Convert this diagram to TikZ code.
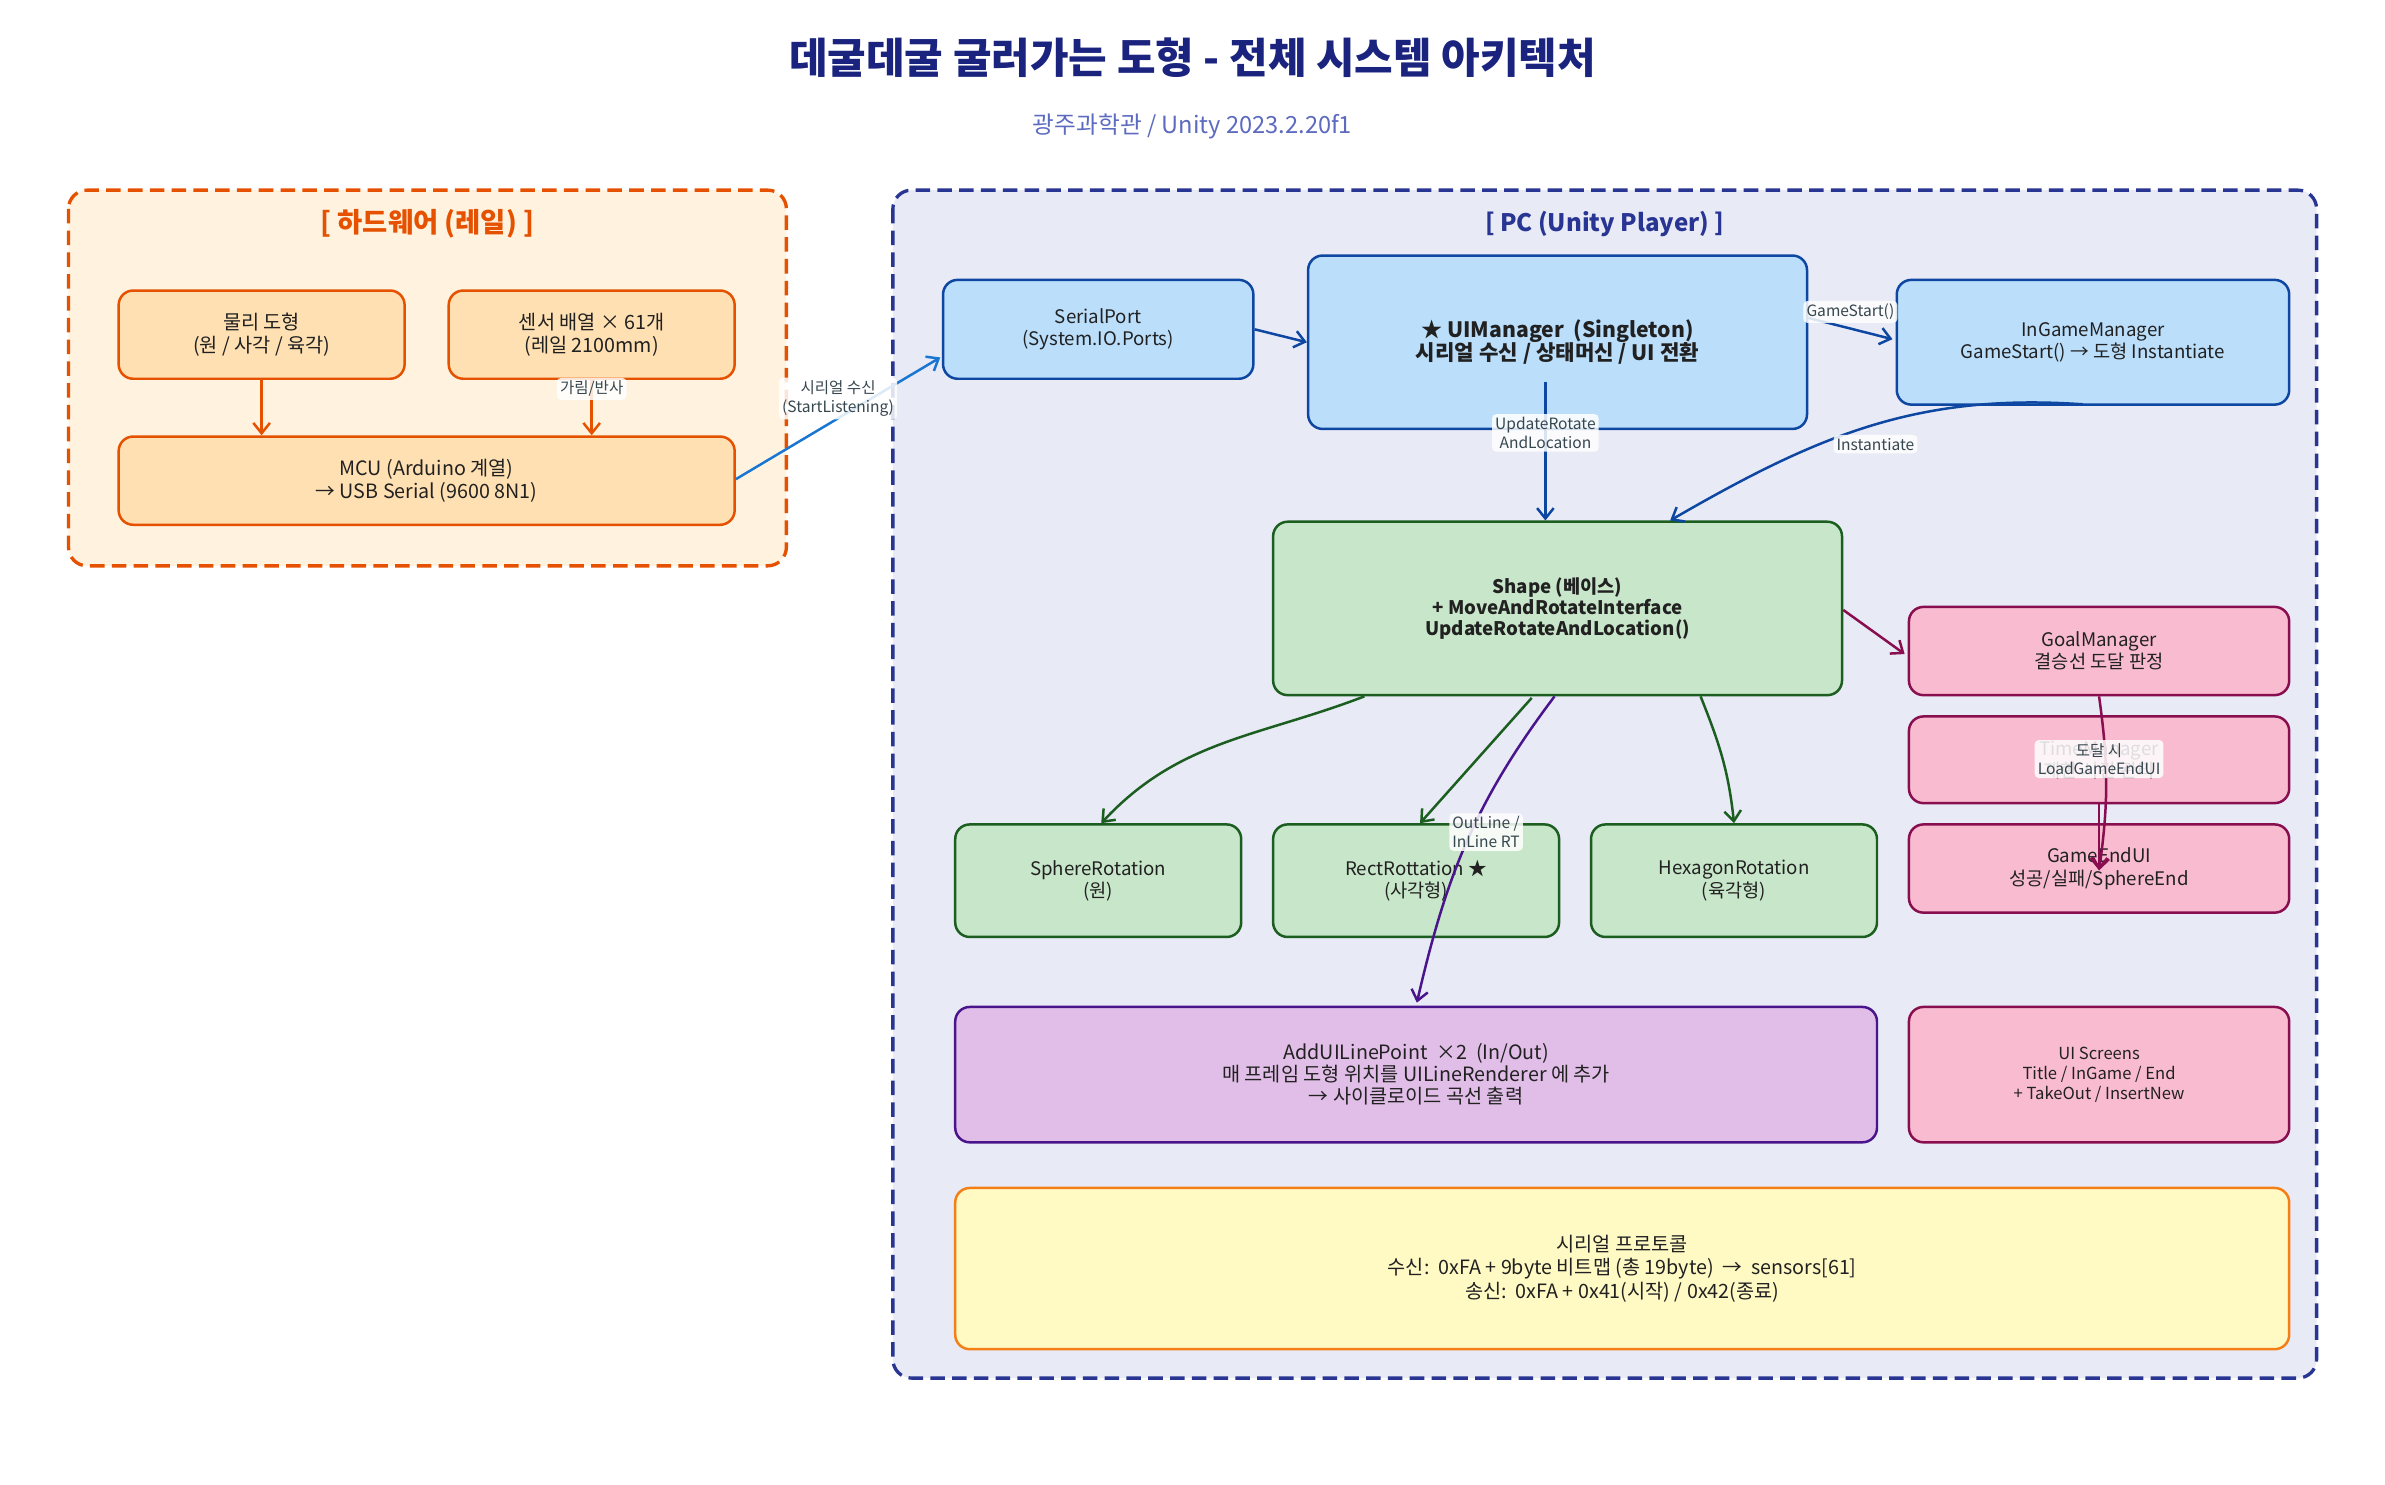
\documentclass[tikz,border=0pt]{standalone}
\usepackage{fontspec}
\setmainfont{Noto Sans CJK KR}
\usetikzlibrary{arrows.meta,calc}

\def \unitLen {0.025757cm}

\definecolor{titleNavy}{HTML}{1A237E}
\definecolor{subBlue}{HTML}{5C6BC0}
\definecolor{hwLine}{HTML}{E65100}
\definecolor{hwBack}{HTML}{FFF3E0}
\definecolor{hwFill}{HTML}{FFE0B2}
\definecolor{serialBlue}{HTML}{1976D2}
\definecolor{pcLine}{HTML}{283593}
\definecolor{pcBack}{HTML}{E8EAF6}
\definecolor{blueFill}{HTML}{BBDEFB}
\definecolor{blueLine}{HTML}{0D47A1}
\definecolor{greenFill}{HTML}{C8E6C9}
\definecolor{greenLine}{HTML}{1B5E20}
\definecolor{pinkFill}{HTML}{F8BBD0}
\definecolor{pinkLine}{HTML}{880E4F}
\definecolor{purpleFill}{HTML}{E1BEE7}
\definecolor{purpleLine}{HTML}{4A148C}
\definecolor{yellowFill}{HTML}{FFF9C4}
\definecolor{yellowLine}{HTML}{F57F17}
\definecolor{textDark}{HTML}{212121}
\definecolor{labelText}{HTML}{37474F}

\tikzset{
  boxsize/.style 2 args={minimum width=#1*\unitLen, minimum height=#2*\unitLen},
  module/.style={draw, rounded corners=7pt, line width=1.2pt, align=center,
    text=textDark, inner sep=2pt, font=\fontsize{9}{10.8}\selectfont},
  hwbox/.style={module, fill=hwFill, draw=hwLine, font=\fontsize{9.5}{11}\selectfont},
  pcbox/.style={module, fill=blueFill, draw=blueLine},
  shapebox/.style={module, fill=greenFill, draw=greenLine},
  pinkbox/.style={module, fill=pinkFill, draw=pinkLine},
  linebox/.style={module, fill=purpleFill, draw=purpleLine, font=\fontsize{9.5}{10.6}\selectfont},
  protobox/.style={module, fill=yellowFill, draw=yellowLine, font=\fontsize{9.5}{11.4}\selectfont},
  frame/.style={line width=1.6pt, rounded corners=9pt, dash pattern=on 7pt off 3.5pt},
  link/.style={-{Straight Barb[length=5pt,width=8pt]}, line width=1.2pt},
  elabel/.style={fill=white, fill opacity=0.85, text opacity=1, rounded corners=2pt,
    inner sep=1.5pt, align=center, text=labelText, font=\fontsize{7.5}{9}\selectfont}
}

\begin{document}
\begin{tikzpicture}[x=\unitLen, y=\unitLen]
  \useasboundingbox[fill=white] (0,0) rectangle (1568,-976);

  % titles
  \node[font=\bfseries\fontsize{20.2}{24}\selectfont, text=titleNavy] (title) at (784,-38)
    {데굴데굴 굴러가는 도형 - 전체 시스템 아키텍처};
  \node[font=\fontsize{11.4}{13}\selectfont, text=subBlue] (subtitle) at (784,-83)
    {광주과학관 / Unity 2023.2.20f1};

  % hardware side
  \draw[frame, draw=hwLine, fill=hwBack] (45,-125) rectangle (517,-372);
  \node[font=\bfseries\fontsize{13.2}{15}\selectfont, text=hwLine] (hwtitle) at (281,-147) {[ 하드웨어 (레일) ]};
  \node[hwbox, boxsize={188}{58}] (phys) at (172,-220) {물리 도형\\(원 / 사각 / 육각)};
  \node[hwbox, boxsize={188}{58}] (sensor) at (389,-220) {센서 배열 × 61개\\(레일 2100mm)};
  \node[hwbox, boxsize={405}{58}] (mcu) at (280.5,-316) {MCU (Arduino 계열)\\→ USB Serial (9600 8N1)};

  % pc side
  \draw[frame, draw=pcLine, fill=pcBack] (587,-125) rectangle (1523,-906);
  \node[font=\bfseries\fontsize{11.6}{14}\selectfont, text=pcLine] (pctitle) at (1055,-147) {[ PC (Unity Player) ]};
  \node[pcbox, boxsize={204}{65}] (serial) at (722,-216.5) {SerialPort\\(System.IO.Ports)};
  \node[pcbox, boxsize={328}{114}, font=\bfseries\fontsize{10.2}{11.2}\selectfont] (uimgr) at (1024,-225)
    {★ UIManager\ \ (Singleton)\\시리얼 수신 / 상태머신 / UI 전환};
  \node[pcbox, boxsize={258}{82}] (ingame) at (1376,-225) {InGameManager\\GameStart() → 도형 Instantiate};
  \node[shapebox, boxsize={374}{114}, font=\bfseries\fontsize{9}{10.3}\selectfont] (shape) at (1024,-400)
    {Shape (베이스)\\+ MoveAndRotateInterface\\UpdateRotateAndLocation()};
  \node[shapebox, boxsize={188}{74}] (sphere) at (722,-579) {SphereRotation\\(원)};
  \node[shapebox, boxsize={188}{74}] (rect) at (931,-579) {RectRottation\ ★\\(사각형)};
  \node[shapebox, boxsize={188}{74}] (hexa) at (1140,-579) {HexagonRotation\\(육각형)};
  \node[pinkbox, boxsize={250}{58}] (goal) at (1380,-428) {GoalManager\\결승선 도달 판정};
  \node[pinkbox, boxsize={250}{57}] (timer) at (1380,-499.5) {TimeManager\\제한 시간 관리};
  \node[pinkbox, boxsize={250}{58}] (gameend) at (1380,-571) {GameEndUI\\성공/실패/SphereEnd};
  \node[pinkbox, boxsize={250}{89}, font=\fontsize{8}{9.6}\selectfont] (screens) at (1380,-706.5)
    {UI Screens\\Title / InGame / End\\+ TakeOut / InsertNew};
  \node[linebox, boxsize={606}{89}] (linept) at (931,-706.5)
    {AddUILinePoint\ \ ×2\ \ (In/Out)\\매 프레임 도형 위치를 UILineRenderer 에 추가\\→ 사이클로이드 곡선 출력};
  \node[protobox, boxsize={877}{106}] (proto) at (1066.5,-834)
    {시리얼 프로토콜\\수신:\ \ 0xFA + 9byte 비트맵 (총 19byte)\ \ →\ \ sensors[61]\\송신:\ \ 0xFA + 0x41(시작) / 0x42(종료)};
  \coordinate (endhit) at ($(gameend.north)+(0,-31)$);

  % connectors
  \draw[link, hwLine] (phys.south) -- (phys.south |- mcu.north);
  \draw[link, hwLine] (sensor.south) -- (sensor.south |- mcu.north)
    node[elabel, pos=0.16] {가림/반사};
  \draw[link, serialBlue] ($(mcu.east)+(0,1)$) -- ($(serial.west)+(-1,-18.5)$)
    node[elabel, pos=0.5, yshift=9.5pt] {시리얼 수신\\(StartListening)};
  \draw[link, blueLine] (serial.east) -- (uimgr.west);
  \draw[link, blueLine] ($(uimgr.east)+(0,16)$) -- ($(ingame.west)+(-2,2)$)
    node[elabel, pos=0.5, yshift=8pt] {GameStart()};
  \draw[link, blueLine] ($(uimgr.south)+(-8,32)$) -- ($(shape.north)+(-8,0)$)
    node[elabel, pos=0.37] {UpdateRotate\\AndLocation};
  \draw[link, blueLine] ($(ingame.south)+(-6.5,1)$) to[out=176, in=30] ($(shape.north)+(74,0)$);
  \node[elabel] (lblInst) at (1233,-292) {Instantiate};

  \draw[link, greenLine] ($(shape.south)+(-127,0)$) to[out=201, in=47] ($(sphere.north)+(2,0)$);
  \draw[link, greenLine] ($(shape.south)+(-17,-1)$) -- ($(rect.north)+(2.6,0)$);
  \draw[link, greenLine] ($(shape.south)+(94,0)$) to[out=292, in=96] (hexa.north);
  \draw[link, purpleLine] ($(shape.south)+(-2,0)$) to[out=233, in=77] ($(linept.north)+(0.5,2)$)
    node[elabel] at (977,-547) {OutLine /\\InLine RT};
  \draw[link, pinkLine] ($(shape.east)+(0,-1)$) -- ($(goal.west)+(-2,-2)$);
  \draw[link, pinkLine] (timer.south) -- (endhit);
  \draw[link, pinkLine] (goal.south) to[out=278, in=82] (endhit)
    node[elabel] at (1380,-499) {도달 시\\LoadGameEndUI};
\end{tikzpicture}
\end{document}
